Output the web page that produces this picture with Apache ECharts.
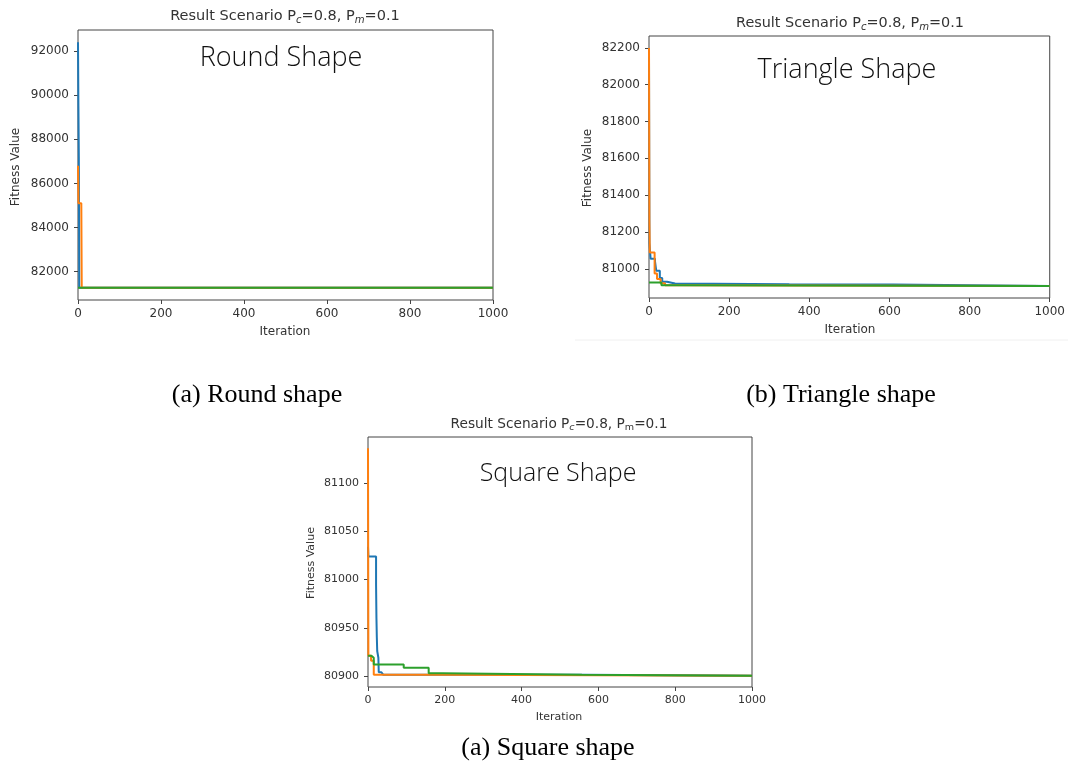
<!DOCTYPE html>
<html><head><meta charset="utf-8">
<script src="https://cdn.jsdelivr.net/npm/echarts@6/dist/echarts.min.js"></script>
<style>html,body{margin:0;padding:0;background:#fff}#c{width:1068px;height:761px}</style>
</head><body><div id="c"></div>
<script>
// ---- tick labels ----
const xTicks = [0, 200, 400, 600, 800, 1000];
const roundYTicks = [82000, 84000, 86000, 88000, 90000, 92000];
const triYTicks = [81000, 81200, 81400, 81600, 81800, 82000, 82200];
const squareYTicks = [80900, 80950, 81000, 81050, 81100];

// ---- Round shape ----
const roundBlueIter = [0, 1, 2, 3, 1000];
const roundBlueFit = [92400, 89500, 87200, 81270, 81270];
const roundOrangeIter = [0, 1, 8, 9, 1000];
const roundOrangeFit = [86800, 85100, 85000, 81270, 81270];
const roundGreenIter = [0, 1000];
const roundGreenFit = [81270, 81270];

// ---- Triangle shape ----
const triBlueIter = [0, 1, 4, 15, 18, 27, 33, 45, 65, 350, 610, 1000];
const triBlueFit = [82150, 81140, 81055, 81040, 80990, 80950, 80930, 80920, 80916, 80914, 80906, 80906];
const triOrangeIter = [0, 1, 2, 14, 20, 29, 40, 70, 1000];
const triOrangeFit = [82200, 81265, 81088, 80975, 80945, 80922, 80910, 80906, 80906];
const triGreenIter = [0, 31, 72, 1000];
const triGreenFit = [80926, 80911, 80906, 80906];

// ---- Square shape ----
const sqBlueIter = [0, 1, 21, 22, 23, 24, 25, 27, 28, 35, 40, 560, 1000];
const sqBlueFit = [81034, 81024, 80995, 80960, 80940, 80926, 80924, 80919, 80904, 80903, 80901.4, 80900.5, 80900.5];
const sqOrangeIter = [0, 1, 8, 15, 200, 1000];
const sqOrangeFit = [81136, 80921, 80916, 80901.5, 80900.5, 80900.5];
const sqGreenIter = [0, 9, 15, 93, 158, 193, 557, 1000];
const sqGreenFit = [80921, 80919, 80912, 80908.6, 80903, 80901.4, 80900.5, 80900.5];

const BLUE = '#1f77b4', ORANGE = '#ff7f0e', GREEN = '#2ca02c';
const TXT = '#333';
const FRAME = '#444';

function limits(arrs) {
  let mn = Infinity, mx = -Infinity;
  arrs.forEach(a => a.forEach(v => { mn = Math.min(mn, v); mx = Math.max(mx, v); }));
  const pad = 0.05 * (mx - mn);
  return [mn - pad, mx + pad];
}
function series(iters, fits, color, idx) {
  return {
    type: 'line', xAxisIndex: idx, yAxisIndex: idx, step: 'end', symbol: 'none',
    lineStyle: { color: color, width: 2 }, itemStyle: { color: color },
    data: iters.map((x, i) => [x, fits[i]]), silent: true, animation: false
  };
}

const panels = [
  { grid: { left: 78, top: 30, width: 415, height: 270 }, ticks: roundYTicks, fs: 12,
    lim: limits([roundBlueFit, roundOrangeFit, roundGreenFit]) },
  { grid: { left: 649, top: 36, width: 404, height: 262 }, ticks: triYTicks, fs: 12,
    lim: limits([triBlueFit, triOrangeFit, triGreenFit]) },
  { grid: { left: 368, top: 437, width: 384, height: 250 }, ticks: squareYTicks, fs: 11,
    lim: limits([sqBlueFit, sqOrangeFit, sqGreenFit]) }
];

const plain = v => String(Math.round(v));
const grids = [], xAxes = [], yAxes = [];
panels.forEach((p, i) => {
  grids.push(Object.assign({ show: true, borderColor: FRAME, borderWidth: 1, backgroundColor: 'transparent' }, p.grid));
  xAxes.push({
    gridIndex: i, type: 'value', min: 0, max: 1000, interval: 200,
    axisLine: { show: false }, splitLine: { show: false },
    axisTick: { show: true, inside: false, length: 4, lineStyle: { color: FRAME }, customValues: xTicks },
    axisLabel: { fontFamily: 'DejaVu Sans', fontSize: p.fs, color: TXT, margin: 8, formatter: plain, customValues: xTicks }
  });
  yAxes.push({
    gridIndex: i, type: 'value', min: p.lim[0], max: p.lim[1],
    axisLine: { show: false }, splitLine: { show: false },
    axisTick: { show: true, inside: false, length: 4, lineStyle: { color: FRAME }, customValues: p.ticks },
    axisLabel: { fontFamily: 'DejaVu Sans', fontSize: p.fs, color: TXT, margin: 9, formatter: plain, customValues: p.ticks }
  });
});

function titleText(x, y, fs, mItalic) {
  return {
    type: 'text', x: x, y: y, silent: true,
    style: {
      text: '{n|Result Scenario P}{s|c}{n|=0.8, P}{' + (mItalic ? 's' : 'u') + '|m}{n|=0.1}',
      align: 'center', verticalAlign: 'middle',
      rich: {
        n: { fontFamily: 'DejaVu Sans', fontSize: fs, lineHeight: 18, fill: TXT },
        s: { fontFamily: 'DejaVu Sans', fontSize: fs * 0.7, fontStyle: 'italic', lineHeight: 11, verticalAlign: 'bottom', fill: TXT },
        u: { fontFamily: 'DejaVu Sans', fontSize: fs * 0.7, lineHeight: 11, verticalAlign: 'bottom', fill: TXT }
      }
    }
  };
}
function txt(x, y, s, fs, family, extra) {
  return {
    type: 'text', x: x, y: y, silent: true, rotation: (extra && extra.rot) || 0,
    style: Object.assign({ text: s, fontSize: fs, fontFamily: family, fill: TXT, align: 'center', verticalAlign: 'middle' },
      (extra && extra.style) || {})
  };
}
const annot = { fill: '#111', fontWeight: 300 };
const cap = { fill: '#000' };
const graphics = [
  titleText(285, 16.5, 14.5, true),
  titleText(850, 23.5, 14.4, true),
  titleText(559, 424, 13.7, false),
  txt(281, 58, 'Round Shape', 27, 'Open Sans', { style: annot }),
  txt(847, 70, 'Triangle Shape', 27, 'Open Sans', { style: annot }),
  txt(558, 474, 'Square Shape', 25, 'Open Sans', { style: annot }),
  txt(16, 167, 'Fitness Value', 12, 'DejaVu Sans', { rot: Math.PI / 2 }),
  txt(588, 168, 'Fitness Value', 12, 'DejaVu Sans', { rot: Math.PI / 2 }),
  txt(311, 563, 'Fitness Value', 11, 'DejaVu Sans', { rot: Math.PI / 2 }),
  txt(285, 332, 'Iteration', 12, 'DejaVu Sans'),
  txt(850, 330, 'Iteration', 12, 'DejaVu Sans'),
  txt(559, 717, 'Iteration', 11, 'DejaVu Sans'),
  txt(257, 395, '(a) Round shape', 26, 'Liberation Serif', { style: cap }),
  txt(841, 395, '(b) Triangle shape', 26, 'Liberation Serif', { style: cap }),
  txt(548, 748, '(a) Square shape', 26, 'Liberation Serif', { style: cap }),
  { type: 'line', silent: true, shape: { x1: 575, y1: 340, x2: 1068, y2: 340 }, style: { stroke: '#f0f0f0', lineWidth: 1 } }
];

const chart = echarts.init(document.getElementById('c'), null, { renderer: 'canvas' });
chart.setOption({
  backgroundColor: '#fff',
  animation: false,
  grid: grids, xAxis: xAxes, yAxis: yAxes,
  series: [
    series(roundBlueIter, roundBlueFit, BLUE, 0),
    series(roundOrangeIter, roundOrangeFit, ORANGE, 0),
    series(roundGreenIter, roundGreenFit, GREEN, 0),
    series(triBlueIter, triBlueFit, BLUE, 1),
    series(triOrangeIter, triOrangeFit, ORANGE, 1),
    series(triGreenIter, triGreenFit, GREEN, 1),
    series(sqBlueIter, sqBlueFit, BLUE, 2),
    series(sqOrangeIter, sqOrangeFit, ORANGE, 2),
    series(sqGreenIter, sqGreenFit, GREEN, 2)
  ],
  graphic: graphics
});
</script></body></html>
